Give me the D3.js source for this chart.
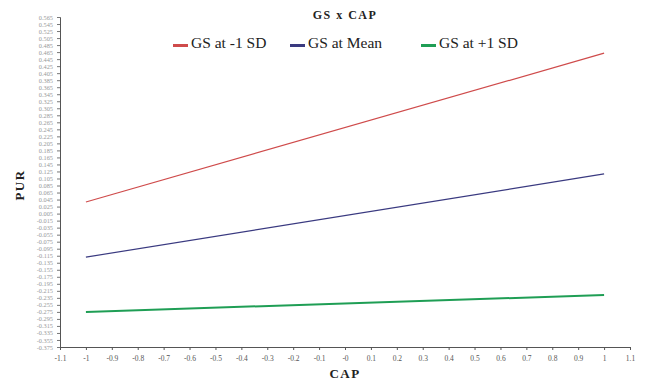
<!DOCTYPE html>
<html>
<head>
<meta charset="utf-8">
<script src="https://cdn.jsdelivr.net/npm/d3@7"></script>
<style>
  body { margin: 0; background: #fff; }
  svg { display: block; font-family: "Liberation Serif", "DejaVu Serif", serif; }
</style>
</head>
<body>
<div id="chart"></div>
<script>
// chart data
const capPoints = [-1, 1];
const seriesNames = ['GS at -1 SD', 'GS at Mean', 'GS at +1 SD'];
const lowGS = [0.038, 0.462];
const meanGS = [-0.119, 0.118];
const highGS = [-0.275, -0.227];
const seriesColors = ['#cf4b4b', '#3a3a80', '#1f9e55'];
const xTickValues = [-1.1, -1, -0.9, -0.8, -0.7, -0.6, -0.5, -0.4, -0.3, -0.2, -0.1, 0, 0.1, 0.2, 0.3, 0.4, 0.5, 0.6, 0.7, 0.8, 0.9, 1, 1.1];
const xTickLabels = ['-1.1', '-1', '-0.9', '-0.8', '-0.7', '-0.6', '-0.5', '-0.4', '-0.3', '-0.2', '-0.1', '-0', '0.1', '0.2', '0.3', '0.4', '0.5', '0.6', '0.7', '0.8', '0.9', '1', '1.1'];
const yMax = 0.565;
const yMin = -0.375;
const yStep = 0.02;

const width = 647, height = 382;
const margin = { top: 17, right: 17, bottom: 35, left: 60 };

const svg = d3.select('#chart').append('svg')
  .attr('width', width)
  .attr('height', height);

const x = d3.scaleLinear().domain([-1.1, 1.1]).range([margin.left, width - margin.right]);
const y = d3.scaleLinear().domain([yMin, yMax]).range([height - margin.bottom, margin.top]);

const yTickValues = d3.range(0, Math.round((yMax - yMin) / yStep) + 1)
  .map(i => +(yMax - i * yStep).toFixed(3));

// x axis
const xAxis = svg.append('g')
  .attr('transform', `translate(0,${height - margin.bottom})`)
  .call(d3.axisBottom(x).tickValues(xTickValues)
    .tickFormat((d, i) => xTickLabels[i]).tickSize(3).tickPadding(6));
xAxis.select('.domain').attr('stroke', '#555');
xAxis.selectAll('.tick line').attr('stroke', '#555');
xAxis.selectAll('.tick text')
  .attr('fill', '#555')
  .style('font-size', '7.5px')
  .style('font-family', '"Liberation Serif", serif');

// y axis
const yAxis = svg.append('g')
  .attr('transform', `translate(${margin.left},0)`)
  .call(d3.axisLeft(y).tickValues(yTickValues)
    .tickFormat(d => d.toFixed(3)).tickSize(3).tickPadding(4));
yAxis.select('.domain').attr('stroke', '#555');
yAxis.selectAll('.tick line').attr('stroke', '#777');
yAxis.selectAll('.tick text')
  .attr('fill', '#999')
  .style('font-size', '6.3px')
  .style('font-family', '"Liberation Serif", serif');

// lines
const series = [lowGS, meanGS, highGS];
const line = d3.line()
  .x((d, i) => x(capPoints[i]))
  .y(d => y(d));

svg.append('g').selectAll('path')
  .data(series)
  .enter()
  .append('path')
  .attr('d', line)
  .attr('fill', 'none')
  .attr('stroke', (d, i) => seriesColors[i])
  .attr('stroke-width', (d, i) => i === 2 ? 2 : 1.2);

// title
svg.append('text')
  .text('GS x CAP')
  .attr('x', 345)
  .attr('y', 19)
  .style('font-size', '12px')
  .style('font-weight', 'bold')
  .style('letter-spacing', '1.5px')
  .style('text-anchor', 'middle')
  .attr('fill', '#222');

// legend
const legendX = [173, 290, 421];
const legend = svg.append('g').selectAll('g')
  .data(seriesNames)
  .enter()
  .append('g')
  .attr('transform', (d, i) => `translate(${legendX[i]},47)`);
legend.append('rect')
  .attr('x', 0).attr('y', -3)
  .attr('width', 15).attr('height', 3)
  .attr('fill', (d, i) => seriesColors[i]);
legend.append('text')
  .text(d => d)
  .attr('x', 18)
  .attr('y', 1)
  .style('font-size', '15.5px')
  .attr('fill', '#222');

// axis titles
svg.append('text')
  .text('CAP')
  .attr('x', 345)
  .attr('y', 378)
  .style('font-size', '13px')
  .style('font-weight', 'bold')
  .style('letter-spacing', '1.5px')
  .style('text-anchor', 'middle')
  .attr('fill', '#222');

svg.append('text')
  .text('PUR')
  .attr('transform', 'translate(24,185) rotate(-90)')
  .style('font-size', '13px')
  .style('font-weight', 'bold')
  .style('letter-spacing', '1.5px')
  .style('text-anchor', 'middle')
  .attr('fill', '#222');
</script>
</body>
</html>
